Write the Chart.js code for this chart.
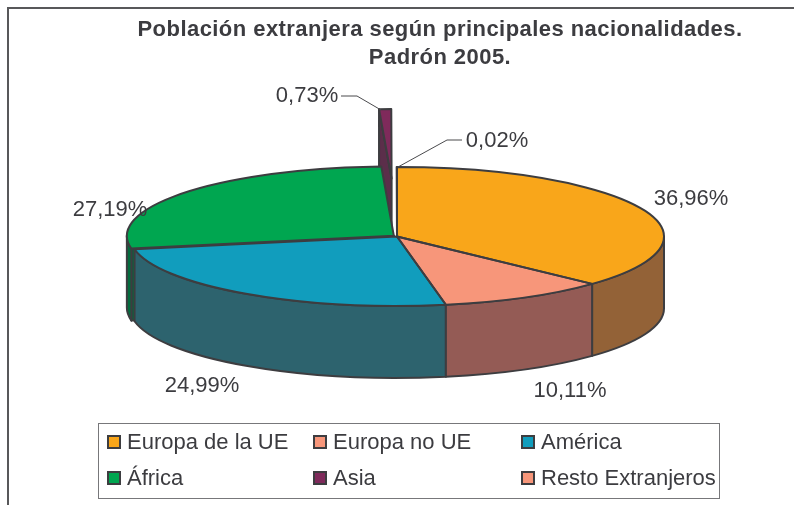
<!DOCTYPE html>
<html>
<head>
<meta charset="utf-8">
<script src="https://cdn.jsdelivr.net/npm/chart.js@4"></script>
<style>
  html, body { margin: 0; padding: 0; background: #fff; overflow: hidden; }
  #wrap { position: relative; width: 794px; height: 505px; overflow: hidden; }
  #frame { position: absolute; left: 7px; top: 7px; right: -4px; bottom: -4px;
           border-left: 2px solid #58585a; border-top: 2px solid #58585a; }
  canvas { position: absolute; left: 0; top: 0; }
  #legend { position: absolute; left: 98px; top: 423px; width: 620px; height: 74px;
            border: 1.5px solid #77777a; display: grid; box-sizing: content-box;
            grid-template-columns: 206px 208px auto; grid-auto-rows: 36px;
            padding-top: 0; font: 22px "Liberation Sans", Arial, sans-serif; color: #3c3c40; }
  #legend div { display: flex; align-items: center; white-space: nowrap; padding-left: 8px; }
  #legend i { display: block; width: 10px; height: 10px; border: 2px solid #3d3d40; margin-right: 6px; flex: none; }
</style>
</head>
<body>
<div id="wrap">
  <div id="frame"></div>
  <canvas id="chart" width="794" height="505"></canvas>
  <div id="legend"></div>
</div>
<script>
const categories = ["Europa de la UE", "Europa no UE", "América", "África", "Asia", "Resto Extranjeros"];
const shares = [36.96, 10.11, 24.99, 27.19, 0.73, 0.02];
const titleLines = ["Población extranjera según principales nacionalidades.", "Padrón 2005."];

const topColors = ["#F9A61A", "#F7967A", "#119DBD", "#00A650", "#7F2A5B", "#F7967A"];
const wallColors = ["#936237", "#945B55", "#2D636E", "#036B3E", "#5B2E4A", "#945B55"];
// pulled out slices, in screen px. chart.js own offset shrinks narrow wedges so it is done here
const explode = [0, 0, 0, 4, 223, 0];

// where each value label sits, same order as categories
const labelSpots = [[691, 199], [570, 391], [202, 386], [110, 210], [307, 96], [497, 141]];
const leaders = { 4: [[341, 96], [357, 96], [381, 110]], 5: [[462, 140], [447, 140], [398, 167]] };

const PIE_X = 397, PIE_Y = 236.5, PIE_RX = 267, TILT = 0.26, DEPTH = 72;
const OUTLINE = "#3d3d40";

function sliceGeom(arc, i) {
  const mid = (arc.startAngle + arc.endAngle) / 2;
  const off = explode[i];
  return {
    cx: PIE_X + Math.cos(mid) * off,
    cy: PIE_Y + Math.sin(mid) * off * TILT,
    r: PIE_RX,
    start: arc.startAngle,
    end: arc.endAngle,
    mid,
    off,
  };
}

function drawWalls(ctx, arcs) {
  const order = arcs.map((arc, i) => i).sort((a, b) => Math.sin(sliceGeom(arcs[a], a).mid) - Math.sin(sliceGeom(arcs[b], b).mid));
  ctx.lineWidth = 2;
  ctx.lineJoin = "round";
  ctx.strokeStyle = OUTLINE;
  order.forEach((i) => {
    const g = sliceGeom(arcs[i], i);
    ctx.fillStyle = wallColors[i];
    // cut face, only exploded slices show one
    if (g.off > 0 && Math.cos(g.start) < 0) {
      const ox = g.cx + Math.cos(g.start) * g.r;
      const oy = g.cy + Math.sin(g.start) * g.r * TILT;
      ctx.beginPath();
      ctx.moveTo(g.cx, g.cy);
      ctx.lineTo(ox, oy);
      ctx.lineTo(ox, oy + DEPTH);
      ctx.lineTo(g.cx, g.cy + DEPTH);
      ctx.closePath();
      ctx.fill();
      ctx.stroke();
    }
    // outer wall, front half of the ellipse only
    const a1 = Math.max(g.start, 0);
    const a2 = Math.min(g.end, Math.PI);
    if (a2 > a1) {
      ctx.beginPath();
      ctx.ellipse(g.cx, g.cy, g.r, g.r * TILT, 0, a1, a2);
      ctx.ellipse(g.cx, g.cy + DEPTH, g.r, g.r * TILT, 0, a2, a1, true);
      ctx.closePath();
      ctx.fill();
      ctx.stroke();
    }
  });
}

// top faces: the library's own arc elements, squashed into the tilted plane
function drawTops(ctx, arcs) {
  arcs.forEach((arc, i) => {
    const g = sliceGeom(arc, i);
    const scale = PIE_RX / arc.outerRadius;
    ctx.save();
    ctx.translate(g.cx, g.cy);
    ctx.scale(scale, scale * TILT);
    ctx.translate(-arc.x, -arc.y);
    arc.draw(ctx);
    ctx.restore();
  });
}

function drawOutlines(ctx, arcs) {
  ctx.lineWidth = 2;
  ctx.lineJoin = "round";
  ctx.strokeStyle = OUTLINE;
  arcs.forEach((arc, i) => {
    const g = sliceGeom(arc, i);
    ctx.beginPath();
    ctx.moveTo(g.cx, g.cy);
    ctx.ellipse(g.cx, g.cy, g.r, g.r * TILT, 0, g.start, g.end);
    ctx.closePath();
    ctx.stroke();
  });
}

function drawLabels(ctx) {
  ctx.font = '22px "Liberation Sans", Arial, sans-serif';
  ctx.fillStyle = "#3c3c40";
  ctx.textAlign = "center";
  ctx.textBaseline = "middle";
  shares.forEach((v, i) => {
    ctx.fillText(v.toFixed(2).replace(".", ",") + "%", labelSpots[i][0], labelSpots[i][1]);
  });
  ctx.strokeStyle = "#4a4a4d";
  ctx.lineWidth = 1;
  Object.values(leaders).forEach((pts) => {
    ctx.beginPath();
    pts.forEach((p, n) => (n ? ctx.lineTo(p[0], p[1]) : ctx.moveTo(p[0], p[1])));
    ctx.stroke();
  });
}

const pie3d = {
  id: "pie3d",
  beforeDraw(chart) {
    chart.ctx.letterSpacing = "0.45px"; // for the title
  },
  beforeDatasetDraw(chart) {
    const ctx = chart.ctx;
    const arcs = chart.getDatasetMeta(0).data;
    ctx.letterSpacing = "0px";
    drawWalls(ctx, arcs);
    drawTops(ctx, arcs);
    drawOutlines(ctx, arcs);
    drawLabels(ctx);
    return false; // already drawn, skip the flat pie
  },
};

new Chart(document.getElementById("chart"), {
  type: "pie",
  data: {
    labels: categories,
    datasets: [{
      data: shares,
      backgroundColor: topColors,
      borderWidth: 0,
      clip: false,
    }],
  },
  options: {
    responsive: false,
    animation: false,
    layout: { padding: { left: 86, top: 10 } },
    plugins: {
      legend: { display: false },
      tooltip: { enabled: false },
      title: {
        display: true,
        text: titleLines,
        color: "#3c3c40",
        font: { family: '"Liberation Sans", Arial, sans-serif', size: 22, weight: "bold", lineHeight: 1.27 },
        padding: { top: 6, bottom: 10 },
      },
    },
  },
  plugins: [pie3d],
});

const legendBox = document.getElementById("legend");
categories.forEach((name, i) => {
  const item = document.createElement("div");
  const swatch = document.createElement("i");
  swatch.style.background = topColors[i];
  item.appendChild(swatch);
  item.appendChild(document.createTextNode(name));
  legendBox.appendChild(item);
});
</script>
</body>
</html>
